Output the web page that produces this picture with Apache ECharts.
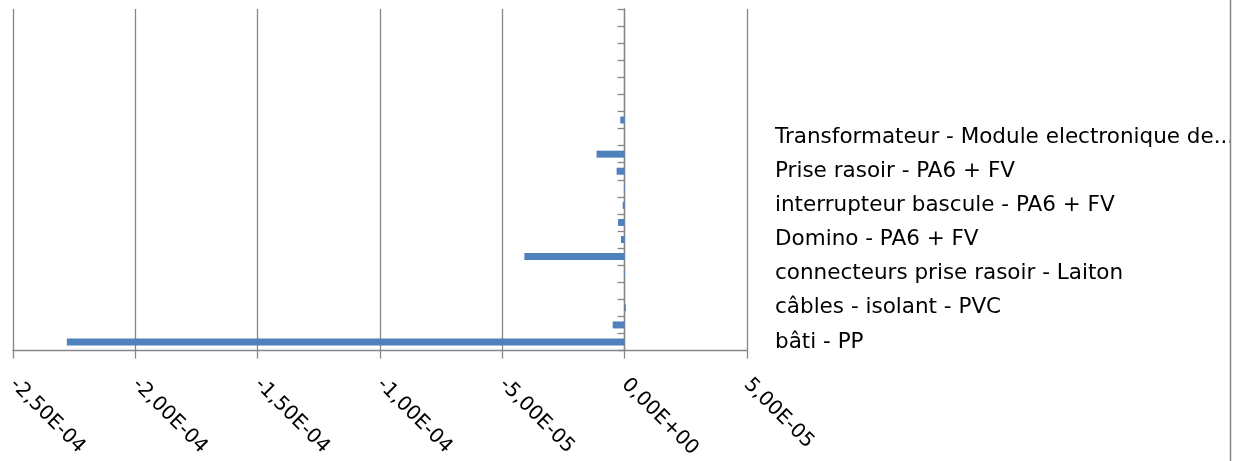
<!DOCTYPE html>
<html>
<head>
<meta charset="utf-8">
<script src="https://cdn.jsdelivr.net/npm/echarts@6/dist/echarts.min.js"></script>
<style>
html,body{margin:0;padding:0;background:#fff;}
#chart{width:1242px;height:461px;}
</style>
</head>
<body>
<div id="chart"></div>
<script>
// Categories, bottom to top (only every other label is shown in the reference)
var categories = [
  'bâti - PP', '',
  'câbles - isolant - PVC', '',
  'connecteurs prise rasoir - Laiton', '',
  'Domino - PA6 + FV', '',
  'interrupteur bascule - PA6 + FV', '',
  'Prise rasoir - PA6 + FV', '',
  'Transformateur - Module electronique de...', '',
  '', '', '', '', '', ''
];
var values = [
  -2.28e-4, -4.9e-6,
  5e-7, 0,
  -3e-7, -4.1e-5,
  -1.5e-6, -2.7e-6,
  -8e-7, -3e-7,
  -3.3e-6, -1.15e-5,
  0, -1.8e-6,
  0, 0, 0, 0, 0, 0
];
var xMin = -2.5e-4, xMax = 5e-5, xStep = 5e-5;

function sci(v) {
  if (Math.abs(v) < 1e-12) return '0,00E+00';
  var s = v.toExponential(2).split('e');
  var e = parseInt(s[1], 10);
  return s[0].replace('.', ',') + 'E' + (e < 0 ? '-' : '+') + String(Math.abs(e)).padStart(2, '0');
}

var axisColor = '#868686';
var font = 'DejaVu Sans';
var chart = echarts.init(document.getElementById('chart'), null, {renderer: 'canvas'});
chart.setOption({
  animation: false,
  grid: {left: 13, right: 495, top: 9, bottom: 110, containLabel: false},
  xAxis: {
    type: 'value', min: xMin, max: xMax, interval: xStep,
    axisLine: {show: true, lineStyle: {color: axisColor, width: 1.3}},
    axisTick: {show: true, length: 8, lineStyle: {color: axisColor, width: 1.3}},
    splitLine: {show: true, lineStyle: {color: axisColor, width: 1.3}},
    axisLabel: {rotate: -45, margin: 31, color: '#000', fontFamily: font, fontSize: 20, formatter: sci}
  },
  yAxis: [{
    type: 'category', data: categories,
    axisLine: {show: true, onZero: true, lineStyle: {color: axisColor, width: 1.3}},
    axisTick: {show: true, length: 7, interval: 0, alignWithLabel: false, lineStyle: {color: axisColor, width: 1.3}},
    axisLabel: {show: false},
    splitLine: {show: false}
  }, {
    type: 'category', data: categories, position: 'right',
    axisLine: {show: false}, axisTick: {show: false}, splitLine: {show: false},
    axisLabel: {show: true, interval: 1, margin: 28, color: '#000', fontFamily: font, fontSize: 21.5}
  }],
  series: [{
    type: 'bar', data: values, yAxisIndex: 0, barWidth: 7,
    itemStyle: {color: '#4F81BD'}
  }],
  graphic: [{
    type: 'rect', shape: {x: 1231, y: 0, width: 11, height: 461},
    style: {fill: '#fff'}, silent: true, z: 99
  }, {
    type: 'line', shape: {x1: 1230.5, y1: 0, x2: 1230.5, y2: 461},
    style: {stroke: axisColor, lineWidth: 1.5}, silent: true, z: 100
  }]
});
</script>
</body>
</html>
